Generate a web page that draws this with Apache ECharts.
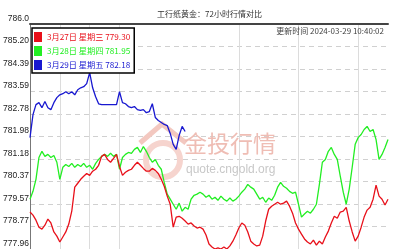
<!DOCTYPE html>
<html><head><meta charset="utf-8">
<script src="https://cdn.jsdelivr.net/npm/echarts@6/dist/echarts.min.js"></script>
<style>html,body{margin:0;padding:0;background:#fff}#c{width:394px;height:249px}</style>
</head><body><div id="c"></div>
<script>
const times = [
'00:00','00:12','00:24','00:36','00:48','01:00','01:12','01:24','01:36','01:48',
'02:00','02:12','02:24','02:36','02:48','03:00','03:12','03:24','03:36','03:48',
'04:00','04:12','04:24','04:36','04:48','05:00','05:12','05:24','05:36','05:48',
'06:00','06:12','06:24','06:36','06:48','07:00','07:12','07:24','07:36','07:48',
'08:00','08:12','08:24','08:36','08:48','09:00','09:12','09:24','09:36','09:48',
'10:00','10:12','10:24','10:36','10:48','11:00','11:12','11:24','11:36','11:48',
'12:00','12:12','12:24','12:36','12:48','13:00','13:12','13:24','13:36','13:48',
'14:00','14:12','14:24','14:36','14:48','15:00','15:12','15:24','15:36','15:48',
'16:00','16:12','16:24','16:36','16:48','17:00','17:12','17:24','17:36','17:48',
'18:00','18:12','18:24','18:36','18:48','19:00','19:12','19:24','19:36','19:48',
'20:00','20:12','20:24','20:36','20:48','21:00','21:12','21:24','21:36','21:48',
'22:00','22:12','22:24','22:36','22:48','23:00','23:12','23:24','23:36','23:48',
'24:00'];
const xGridTimes = ['02:00','04:00','06:00','14:00','18:00','22:00'];
const yTickLabels = ['777.96','778.77','779.57','780.37','781.18','781.98','782.78','783.59','784.39','785.20','786.0'];
const yMin = 777.96, yMax = 786.0, yStep = 0.804;

const seriesNames = ['3月27日 星期三 779.30','3月28日 星期四 781.95','3月29日 星期五 782.18'];
const seriesColors = ['#e8101a','#22ee22','#1818d0'];

const redValues = [
779.28,779.17,778.99,778.74,778.67,778.81,779.03,778.89,778.57,778.42,
778.21,778.39,778.57,778.85,779.31,780.17,780.31,780.45,780.56,780.66,
780.59,780.74,780.81,780.95,781.27,781.34,781.16,781.06,781.20,781.34,
780.91,780.59,780.70,780.77,780.81,780.95,781.06,780.95,780.84,780.74,
780.74,780.84,780.77,780.66,780.45,780.20,779.85,779.56,778.74,779.10,
779.13,779.06,778.96,778.85,778.89,778.78,778.71,778.74,778.67,778.46,
778.14,778.03,777.96,778.00,777.96,778.03,777.96,778.07,778.24,778.46,
778.71,778.89,778.81,778.57,778.24,778.14,778.07,778.10,778.42,778.96,
779.38,779.49,779.56,779.63,779.56,779.60,779.67,779.49,779.24,778.89,
778.67,778.49,778.32,778.21,778.14,778.28,778.10,778.24,778.14,778.39,
778.60,778.89,779.13,779.06,779.28,779.31,779.45,778.96,778.57,778.24,
778.42,778.74,779.10,779.35,779.45,779.74,780.24,779.85,779.74,779.53,
779.74];

const greenValues = [
779.74,780.02,780.45,781.23,781.45,781.27,781.34,781.23,781.30,781.06,
780.45,780.88,780.98,780.91,781.02,780.88,780.98,780.91,781.02,780.88,
780.95,780.81,781.02,781.16,781.27,781.34,781.27,781.38,781.27,781.34,
780.81,781.23,781.34,781.41,781.38,781.52,781.59,781.41,781.62,781.45,
781.23,781.06,781.16,780.95,780.81,780.34,779.92,779.74,779.56,779.38,
779.60,779.31,779.45,779.38,779.74,779.88,779.92,779.99,779.92,779.81,
779.88,779.74,779.81,779.70,779.85,779.74,779.67,779.78,779.67,779.74,
779.85,779.99,780.10,780.27,780.17,780.10,779.92,779.74,779.81,779.63,
779.78,779.70,779.88,780.17,780.34,780.20,780.13,780.02,779.95,779.99,
779.56,779.10,779.21,779.31,779.24,779.38,779.56,780.27,781.06,781.16,
781.45,781.59,781.34,781.16,780.56,779.99,779.56,780.10,780.88,781.70,
781.94,782.05,782.23,782.34,782.16,782.23,781.87,781.16,781.34,781.59,
781.87];

const blueValues = [
781.94,782.76,783.12,783.19,783.01,783.23,783.01,782.94,783.19,783.37,
783.47,783.51,783.58,783.51,783.58,783.47,783.65,783.72,783.76,783.87,
784.26,783.72,783.40,783.15,783.12,783.12,783.12,783.12,783.12,783.12,
783.58,783.19,783.15,783.05,783.01,783.05,782.94,782.91,782.94,782.83,
782.87,783.15,782.66,782.55,782.48,782.41,782.37,782.09,781.70,781.52,
782.02,782.34,782.16];

const titleText = '工行纸黄金：72小时行情对比';
const updateText = '更新时间 2024-03-29 10:40:02';
const markText = '金投行情';
const markUrl = 'quote.cngold.org';

const chart = echarts.init(document.getElementById('c'), null, {renderer:'canvas'});
const cjk = '"Noto Sans CJK SC", sans-serif';
const mkSeries = (idx, data, z) => ({
  name: seriesNames[idx], type:'line', data: data, symbol:'none', z: z,
  lineStyle:{color: seriesColors[idx], width:1.3},
  itemStyle:{color: seriesColors[idx]}, animation:false
});
chart.setOption({
  animation:false,
  backgroundColor:'#fff',
  grid:{left:28, top:24, right:6, bottom:-1, containLabel:false},
  xAxis:[{
    type:'category', data: times, boundaryGap:false,
    axisLine:{show:false}, axisTick:{show:false}, axisLabel:{show:false},
    splitLine:{show:true, interval:(i, v) => xGridTimes.includes(v), lineStyle:{color:'#dcdcdc', width:1}}
  },{
    type:'category', data: times, boundaryGap:false, position:'top',
    axisLine:{show:true, lineStyle:{color:'#444', width:2}}, axisTick:{show:false}, axisLabel:{show:false}, splitLine:{show:false}
  }],
  yAxis:{
    type:'value', min:yMin, max:yMax, interval:yStep,
    axisLine:{show:true, lineStyle:{color:'#777', width:1}}, axisTick:{show:false},
    axisLabel:{
      showMaxLabel:true, showMinLabel:true, margin:1, verticalAlign:'bottom', padding:[0,0,1,0],
      color:'#222', fontSize:8.5, fontFamily:'"Liberation Sans", Arial, sans-serif',
      formatter:(v) => { const k = Math.round((v - yMin) / yStep); return yTickLabels[k] || ''; }
    },
    splitLine:{show:true, lineStyle:{color:'#d0d0d0', type:[5,4], width:1}}
  },
  legend:{
    orient:'vertical', left:32, top:28, icon:'rect', itemWidth:8, itemHeight:10, itemGap:4,
    padding:[4,4,3,2], backgroundColor:'#fff', borderColor:'#000', borderWidth:1.5,
    selectedMode:false, z:10,
    textStyle:{fontSize:8.2, fontFamily:cjk},
    data: seriesNames.map((n,i) => ({name:n, textStyle:{color:seriesColors[i]}}))
  },
  graphic:[
    {type:'text', left:157, top:10, z:5, style:{text:titleText, fill:'#333', font:'8px ' + cjk}},
    {type:'text', right:10, top:27, z:5, style:{text:updateText, fill:'#444', font:'8px ' + cjk}},
    {type:'circle', z:1, shape:{cx:163, cy:160, r:17}, style:{fill:'none', stroke:'#f6d4ce', lineWidth:6}},
    {type:'polyline', z:1, shape:{points:[[140,143],[162,124],[186,143]]}, style:{fill:'none', stroke:'#f3c8c0', lineWidth:5}},
    {type:'text', left:184, top:132, z:1, style:{text:markText, fill:'#efbdb4', font:'23px ' + cjk}},
    {type:'text', left:186, top:164, z:1, style:{text:markUrl, fill:'#c8c8c8', font:'12px "Liberation Sans", Arial, sans-serif'}}
  ],
  series:[ mkSeries(1, greenValues, 3), mkSeries(0, redValues, 4), mkSeries(2, blueValues, 5) ]
});
</script></body></html>
